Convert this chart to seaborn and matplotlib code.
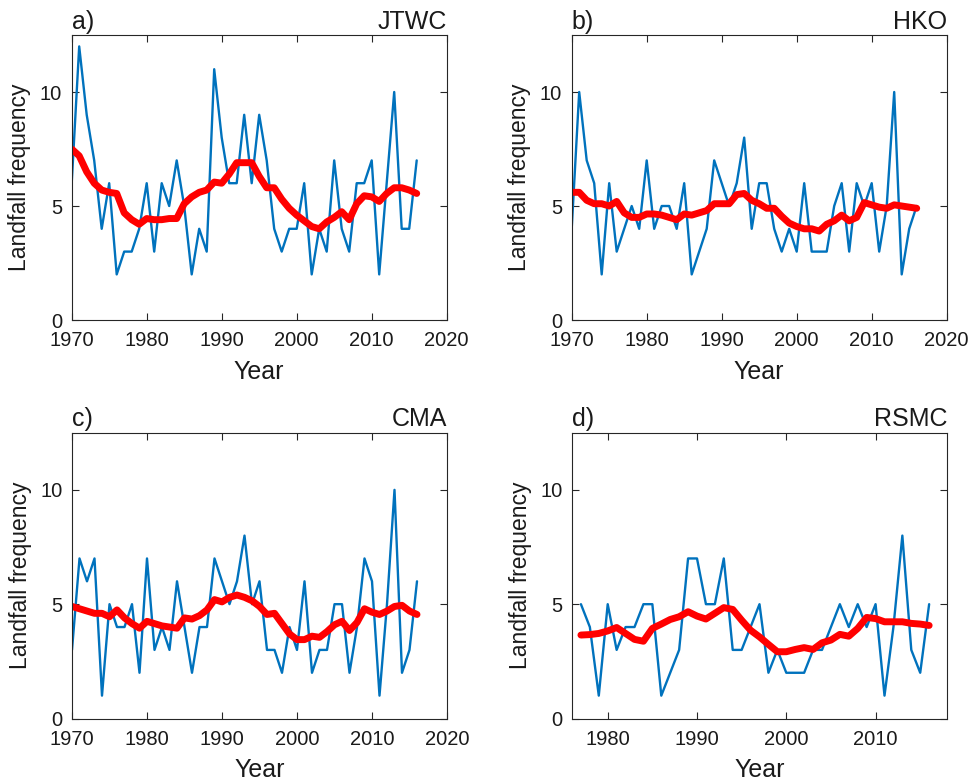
import numpy as np
import pandas as pd
import matplotlib
matplotlib.use("Agg")
import matplotlib.pyplot as plt
import seaborn as sns

years_main = list(range(1970, 2017))
years_rsmc = list(range(1977, 2017))

jtwc = [6, 12, 9, 7, 4, 6, 2, 3, 3, 4, 6, 3, 6, 5, 7, 5, 2, 4, 3, 11, 8, 6, 6, 9, 6, 9, 7, 4, 3, 4,
        4, 6, 2, 4, 3, 7, 4, 3, 6, 6, 7, 2, 6, 10, 4, 4, 7]
jtwc_smooth = [7.5, 7.2, 6.5, 6.0, 5.7, 5.6, 5.55, 4.7, 4.4, 4.2, 4.45, 4.4, 4.4, 4.45, 4.45, 5.1,
               5.4, 5.6, 5.7, 6.05, 6.0, 6.4, 6.9, 6.9, 6.9, 6.3, 5.8, 5.8, 5.3, 4.9, 4.6, 4.35,
               4.1, 4.0, 4.3, 4.5, 4.75, 4.4, 5.1, 5.45, 5.4, 5.2, 5.55, 5.8, 5.8, 5.7, 5.55]

hko = [4, 10, 7, 6, 2, 6, 3, 4, 5, 4, 7, 4, 5, 5, 4, 6, 2, 3, 4, 7, 6, 5, 6, 8, 4, 6, 6, 4, 3, 4,
       3, 6, 3, 3, 3, 5, 6, 3, 6, 5, 6, 3, 5, 10, 2, 4, 5]
hko_smooth = [5.6, 5.6, 5.25, 5.1, 5.1, 5.0, 5.2, 4.7, 4.5, 4.5, 4.65, 4.65, 4.6, 4.5, 4.4, 4.65,
              4.6, 4.7, 4.8, 5.1, 5.1, 5.1, 5.5, 5.55, 5.25, 5.1, 4.9, 4.9, 4.55, 4.25, 4.1, 4.0,
              4.0, 3.9, 4.2, 4.35, 4.6, 4.35, 4.5, 5.15, 5.05, 4.95, 4.9, 5.05, 5.0, 4.95, 4.9]

cma = [3, 7, 6, 7, 1, 5, 4, 4, 5, 2, 7, 3, 4, 3, 6, 4, 2, 4, 4, 7, 6, 5, 6, 8, 5, 6, 3, 3, 2, 4,
       3, 6, 2, 3, 3, 5, 5, 2, 4, 7, 6, 1, 5, 10, 2, 3, 6]
cma_smooth = [4.9, 4.8, 4.7, 4.6, 4.6, 4.45, 4.75, 4.4, 4.15, 3.95, 4.25, 4.15, 4.05, 4.0, 3.95,
              4.4, 4.35, 4.5, 4.75, 5.2, 5.1, 5.3, 5.4, 5.3, 5.15, 4.9, 4.55, 4.6, 4.15, 3.7,
              3.45, 3.45, 3.6, 3.55, 3.8, 4.1, 4.25, 3.85, 4.2, 4.8, 4.65, 4.55, 4.7, 4.9, 4.95,
              4.7, 4.55]

rsmc = [5, 4, 1, 5, 3, 4, 4, 5, 5, 1, 2, 3, 7, 7, 5, 5, 7, 3, 3, 4, 5, 2, 3, 2, 2, 2, 3, 3, 4, 5,
        4, 5, 4, 5, 1, 4, 8, 3, 2, 5]
rsmc_smooth = [3.65, 3.67, 3.72, 3.83, 3.98, 3.72, 3.46, 3.38, 3.94, 4.13, 4.33, 4.45, 4.67, 4.48,
               4.35, 4.6, 4.85, 4.77, 4.3, 3.86, 3.57, 3.24, 2.92, 2.92, 3.02, 3.1, 3.02, 3.31,
               3.43, 3.68, 3.6, 3.94, 4.42, 4.37, 4.23, 4.23, 4.23, 4.16, 4.13, 4.07]

panel_letters = ["a)", "b)", "c)", "d)"]
agencies = ["JTWC", "HKO", "CMA", "RSMC"]
yticks = [0, 5, 10]
xticks_main = [1970, 1980, 1990, 2000, 2010, 2020]
xticks_rsmc = [1980, 1990, 2000, 2010]

sns.set_theme(style="white")
plt.rcParams["font.family"] = ["Liberation Sans", "DejaVu Sans"]

fig = plt.figure(figsize=(9.75, 7.81), dpi=100)
W, H = 975, 781
boxes = [(71.7, 35, 446.7, 320), (571.7, 35, 946.7, 320),
         (72.0, 432.7, 447.0, 718.5), (572.0, 432.7, 947.0, 718.5)]

series = [(years_main, jtwc, jtwc_smooth), (years_main, hko, hko_smooth),
          (years_main, cma, cma_smooth), (years_rsmc, rsmc, rsmc_smooth)]

for i, (bx, (yrs, raw, smooth)) in enumerate(zip(boxes, series)):
    l, t, r, b = bx
    ax = fig.add_axes([l / W, 1 - b / H, (r - l) / W, (b - t) / H])
    df = pd.DataFrame({"Year": yrs, "raw": raw, "smooth": smooth})
    sns.lineplot(data=df, x="Year", y="raw", ax=ax, color="#0072BD", linewidth=1.7)
    sns.lineplot(data=df, x="Year", y="smooth", ax=ax, color="#FF0000", linewidth=5.0)
    ax.set_ylim(0, 12.5)
    ax.set_yticks(yticks)
    if i < 3:
        ax.set_xlim(1970, 2020)
        ax.set_xticks(xticks_main)
    else:
        ax.set_xlim(1976, 2018)
        ax.set_xticks(xticks_rsmc)
    ax.tick_params(direction="in", length=5, width=0.8, top=True, right=True,
                   bottom=True, left=True, labelsize=14.5, colors="#262626",
                   labelcolor="#1a1a1a")
    ax.tick_params(axis="x", pad=8)
    ax.tick_params(axis="y", pad=7)
    for s in ax.spines.values():
        s.set_color("#262626")
        s.set_linewidth(0.8)
    ax.set_xlabel("Year", fontsize=18, color="#1a1a1a", labelpad=7)
    ax.set_ylabel("Landfall frequency", fontsize=16.5, color="#1a1a1a", labelpad=6)
    ax.text(0, 1.005, panel_letters[i], transform=ax.transAxes, ha="left", va="bottom",
            fontsize=18, color="#1a1a1a")
    ax.text(1, 1.005, agencies[i], transform=ax.transAxes, ha="right", va="bottom",
            fontsize=18, color="#1a1a1a")

fig.savefig("out.png", dpi=100)
